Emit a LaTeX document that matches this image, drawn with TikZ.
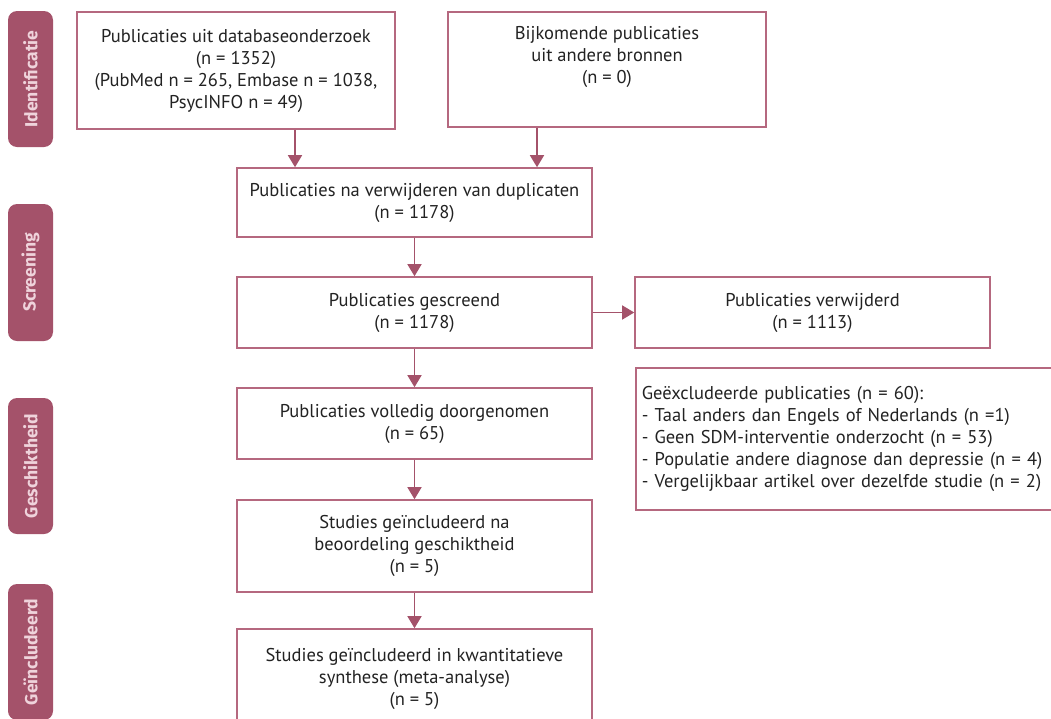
\documentclass[tikz,border=0pt]{standalone}
\usepackage{fontspec}
\setmainfont{PT Sans}
\newfontfamily\barfont{Fira Sans}
\usetikzlibrary{arrows.meta}
\definecolor{barc}{HTML}{A4526A}
\definecolor{boxc}{HTML}{B5687F}
\definecolor{bartext}{HTML}{EFD3DB}
\definecolor{txt}{HTML}{222222}
\begin{document}
\begin{tikzpicture}[x=1pt,y=-1pt,
  box/.style={draw=boxc,line width=1.6pt,align=center,inner sep=0pt,text=txt,font=\fontsize{18.5}{22}\selectfont},
  bar/.style={fill=barc,rounded corners=9pt,inner sep=0pt,rotate=90,minimum height=45pt,text=bartext,font=\barfont\bfseries\fontsize{17.5}{20}\selectfont},
  arr/.style={draw=barc,line width=1.6pt,-{Triangle[width=14pt,length=12pt]}}]
\useasboundingbox (0,0) rectangle (1051,718);
\clip (0,0) rectangle (1051,718);
% phase bars
\node[bar,minimum width=136pt] (s1) at (30.5,79) {Identificatie};
\node[bar,minimum width=137pt] (s2) at (30.5,272.5) {Screening};
\node[bar,minimum width=136pt] (s3) at (30.5,466) {Geschiktheid};
\node[bar,minimum width=136pt] (s4) at (30.5,652) {Geïncludeerd};
% boxes
\node[box,minimum width=318pt,minimum height=117pt] (b1) at (236,70.5) {Publicaties uit databaseonderzoek\\(n = 1352)\\(PubMed n = 265, Embase n = 1038,\\PsycINFO n = 49)};
\node[box,minimum width=318pt,minimum height=115pt] (b2) at (607,69.5) {Bijkomende publicaties\\uit andere bronnen\\(n = 0)\\\strut};
\node[box,minimum width=355pt,minimum height=69pt] (b3) at (414.5,202.5) {Publicaties na verwijderen van duplicaten\\(n = 1178)};
\node[box,minimum width=355pt,minimum height=71pt] (b4) at (414.5,312.5) {Publicaties gescreend\\(n = 1178)};
\node[box,minimum width=355pt,minimum height=71pt] (b5) at (812.5,312.5) {Publicaties verwijderd\\(n = 1113)};
\node[box,anchor=north west,align=left,inner xsep=6pt,text width=430pt,minimum height=142pt] (b6) at (635,367) {Geëxcludeerde publicaties (n = 60):\\- Taal anders dan Engels of Nederlands (n =1)\\- Geen SDM-interventie onderzocht (n = 53)\\- Populatie andere diagnose dan depressie (n = 4)\\- Vergelijkbaar artikel over dezelfde studie (n = 2)};
\node[box,minimum width=355pt,minimum height=71pt] (b7) at (414.5,423.5) {Publicaties volledig doorgenomen\\(n = 65)};
\node[box,minimum width=355pt,minimum height=92pt] (b8) at (414.5,546) {Studies geïncludeerd na\\beoordeling geschiktheid\\(n = 5)};
\node[box,minimum width=355pt,minimum height=100pt] (b9) at (414.5,679) {Studies geïncludeerd in kwantitatieve\\synthese (meta-analyse)\\(n = 5)};
% arrows
\coordinate (xa) at (295,0);
\coordinate (xb) at (537,0);
\draw[arr] (b1.south -| xa) -- (b3.north -| xa);
\draw[arr] (b2.south -| xb) -- (b3.north -| xb);
\draw[arr] (b3.south) -- (b4.north);
\draw[arr] (b4.east) -- (b5.west);
\draw[arr] (b4.south) -- (b7.north);
\draw[arr] (b7.south) -- (b8.north);
\draw[arr] (b8.south) -- (b9.north);
\end{tikzpicture}
\end{document}
